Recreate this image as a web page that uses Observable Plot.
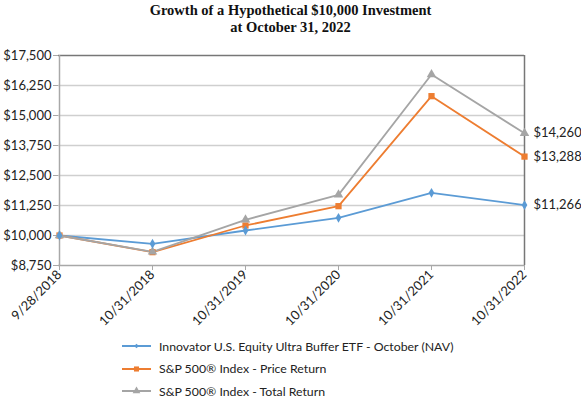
<!DOCTYPE html>
<html>
<head>
<meta charset="utf-8">
<script src="https://cdn.jsdelivr.net/npm/d3@7"></script>
<script src="https://cdn.jsdelivr.net/npm/@observablehq/plot@0.6"></script>
<style>
  html, body { margin: 0; padding: 0; background: #fff; }
  body { width: 581px; height: 400px; position: relative; overflow: hidden; font-family: Lato, "Liberation Sans", sans-serif; }
  #title { position: absolute; left: 0; top: 2px; width: 581px; text-align: center; font-family: "Liberation Serif", serif; font-weight: bold; font-size: 14.5px; line-height: 17px; color: #111; }
  #chart { position: absolute; left: 0; top: 38px; }
  #legend { position: absolute; left: 122px; top: 335px; font-size: 12.3px; color: #222; }
  .row { display: flex; align-items: center; height: 22.6px; }
  .row svg { margin-right: 8px; }
</style>
</head>
<body>
<div id="title">Growth of a Hypothetical $10,000 Investment<br>at October 31, 2022</div>
<div id="chart"></div>
<div id="legend"></div>
<script>
const dates = ["9/28/2018", "10/31/2018", "10/31/2019", "10/31/2020", "10/31/2021", "10/31/2022"];
const etfValues = [10000, 9654, 10208, 10736, 11778, 11266];
const priceValues = [10000, 9306, 10417, 11222, 15806, 13288];
const totalValues = [10000, 9320, 10653, 11694, 16708, 14260];
const seriesNames = [
  "Innovator U.S. Equity Ultra Buffer ETF - October (NAV)",
  "S&P 500\u00AE Index - Price Return",
  "S&P 500\u00AE Index - Total Return"
];
const seriesColors = ["#5b9bd5", "#ed7d31", "#a5a5a5"];
const seriesSymbols = ["diamond", "square", "triangle"];
const yTicks = [8750, 10000, 11250, 12500, 13750, 15000, 16250, 17500];

const allValues = [etfValues, priceValues, totalValues];
const data = allValues.flatMap((vals, i) =>
  vals.map((v, j) => ({date: dates[j], value: v, series: seriesNames[i]})));
const lastPoints = allValues.map((vals, i) => ({date: dates[dates.length - 1], value: vals[vals.length - 1], series: seriesNames[i]}));
const fmt = v => "$" + d3.format(",")(v);

const colorScale = {domain: seriesNames, range: seriesColors};
const symbolScale = {domain: seriesNames, range: seriesSymbols};

const chart = Plot.plot({
  width: 581,
  height: 300,
  marginTop: 17,
  marginBottom: 73,
  marginLeft: 58,
  marginRight: 57,
  style: {fontFamily: "Lato, 'Liberation Sans', sans-serif", fontSize: "13px", color: "#222", background: "#fff"},
  x: {type: "point", domain: dates, padding: 0, label: null},
  y: {domain: [8750, 17500], label: null},
  color: colorScale,
  symbol: symbolScale,
  marks: [
    Plot.ruleY(yTicks.slice(1, -1), {stroke: "#cfcfcf", strokeWidth: 1.3}),
    Plot.ruleY([17500], {stroke: "#777", strokeWidth: 1.5}),
    Plot.ruleX([dates[dates.length - 1]], {stroke: "#777", strokeWidth: 1.5}),
    Plot.ruleY([8750], {stroke: "#a8a8a8", strokeWidth: 1.5}),
    Plot.ruleX([dates[0]], {stroke: "#a8a8a8", strokeWidth: 1.5}),
    Plot.axisY({ticks: yTicks, tickFormat: fmt, tickSize: 5, tickPadding: 2, stroke: "#a8a8a8", fill: "#222", fontSize: 13, label: null}),
    Plot.axisX({tickSize: 5, tickRotate: -45, tickPadding: 2, stroke: "#a8a8a8", fill: "#222", fontSize: 13, label: null}),
    Plot.line(data, {x: "date", y: "value", stroke: "series", strokeWidth: 1.8}),
    Plot.dot(data, {x: "date", y: "value", fill: "series", symbol: "series", r: d => d.series === seriesNames[0] ? 2.6 : 3.6, stroke: "none"}),
    Plot.text(lastPoints, {x: "date", y: "value", text: d => fmt(d.value), textAnchor: "start", dx: 9, fill: "#222", fontSize: 13})
  ]
});
document.getElementById("chart").appendChild(chart);

const legend = document.getElementById("legend");
seriesNames.forEach((name, i) => {
  const row = document.createElement("div");
  row.className = "row";
  const sym = d3.symbol().type([d3.symbolDiamond2, d3.symbolSquare, d3.symbolTriangle][i]).size(i === 0 ? 14 : 26)();
  row.innerHTML = `<svg width="29" height="10"><line x1="0" x2="29" y1="5" y2="5" stroke="${seriesColors[i]}" stroke-width="2"/><path d="${sym}" transform="translate(14.5,5)" fill="${seriesColors[i]}"/></svg><span>${name}</span>`;
  legend.appendChild(row);
});
</script>
</body>
</html>
